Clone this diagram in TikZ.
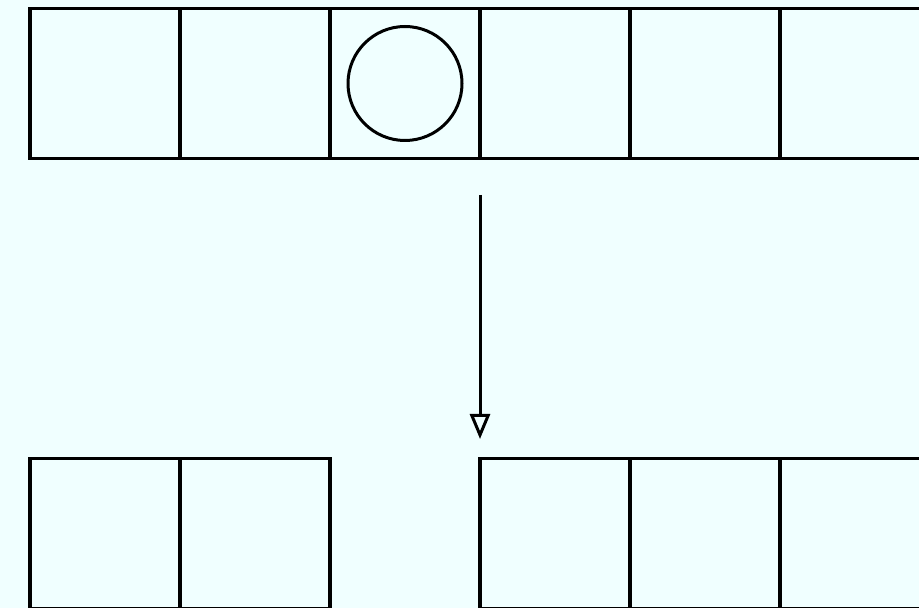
\documentclass[tikz,border=0pt]{standalone}
\usetikzlibrary{arrows.meta}
\definecolor{bgcol}{HTML}{F0FFFF}
\tikzset{
  cell/.style={draw=black, line width=3.2pt, minimum width=150pt, minimum height=150pt, inner sep=0pt, outer sep=0pt},
  ball/.style={draw=black, line width=3pt, circle, minimum size=114pt, inner sep=0pt},
  flow/.style={draw=black, line width=3pt, -{Triangle[open,length=25pt,width=20pt]}}
}
\begin{document}
\begin{tikzpicture}[x=1pt,y=1pt]
\fill[bgcol] (0,0) rectangle (919,608);
\useasboundingbox (0,0) rectangle (919,608);
\clip (0,0) rectangle (919,608);
% top row
\node[cell] (t1) at (105,524.5) {};
\node[cell] (t2) at (255,524.5) {};
\node[cell] (t3) at (405,524.5) {};
\node[cell] (t4) at (555,524.5) {};
\node[cell] (t5) at (705,524.5) {};
\node[cell] (t6) at (855,524.5) {};
\node[ball] (c) at (t3.center) {};
% bottom row
\node[cell] (b1) at (105,74.5) {};
\node[cell] (b2) at (255,74.5) {};
\node[cell] (b4) at (555,74.5) {};
\node[cell] (b5) at (705,74.5) {};
\node[cell] (b6) at (855,74.5) {};
% arrow
\coordinate (as) at (480,413);
\coordinate (ae) at (480,169);
\draw[flow] (as) -- (ae);
\end{tikzpicture}
\end{document}
